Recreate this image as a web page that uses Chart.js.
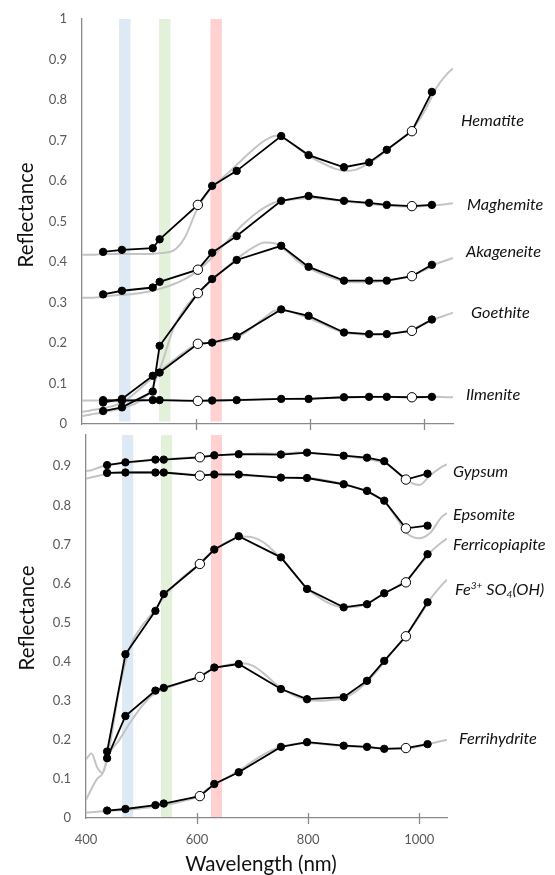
<!DOCTYPE html>
<html><head><meta charset="utf-8">
<script src="https://cdn.jsdelivr.net/npm/chart.js@4.4.1/dist/chart.umd.min.js"></script>
<style>
html,body{margin:0;padding:0;background:#fff;width:555px;height:875px;overflow:hidden}
canvas{position:absolute;left:0}
#topc{top:0}
#botc{top:424px}
</style></head><body>
<canvas id="topc" width="555" height="432"></canvas>
<canvas id="botc" width="555" height="451"></canvas>
<script>
// ---------- data ----------
const topWl = [437, 470, 524, 536, 603, 628, 671, 749, 797, 859, 903, 934, 978, 1013];
const botWl = [438, 471, 525, 540, 605, 631, 675, 751, 798, 864, 906, 937, 976, 1015];
const openIdx = [4, 12];

const hematite   = [0.425, 0.430, 0.434, 0.456, 0.541, 0.588, 0.625, 0.711, 0.664, 0.634, 0.646, 0.677, 0.723, 0.820];
const maghemite  = [0.320, 0.329, 0.337, 0.351, 0.381, 0.423, 0.464, 0.551, 0.563, 0.551, 0.546, 0.541, 0.538, 0.541];
const akageneite = [0.032, 0.041, 0.080, 0.193, 0.323, 0.358, 0.405, 0.440, 0.388, 0.354, 0.354, 0.354, 0.365, 0.393];
const goethite   = [0.053, 0.062, 0.119, 0.127, 0.198, 0.201, 0.216, 0.283, 0.267, 0.226, 0.222, 0.222, 0.230, 0.258];
const ilmenite   = [0.059, 0.058, 0.059, 0.059, 0.057, 0.058, 0.059, 0.062, 0.062, 0.066, 0.067, 0.067, 0.066, 0.067];

const gypsum         = [0.903, 0.910, 0.917, 0.917, 0.923, 0.928, 0.931, 0.930, 0.935, 0.927, 0.922, 0.913, 0.866, 0.881];
const epsomite       = [0.883, 0.884, 0.884, 0.884, 0.876, 0.879, 0.879, 0.871, 0.870, 0.854, 0.837, 0.812, 0.741, 0.748];
const ferricopiapite = [0.170, 0.419, 0.530, 0.573, 0.650, 0.687, 0.721, 0.667, 0.586, 0.539, 0.547, 0.575, 0.603, 0.675];
const fe3so4oh       = [0.153, 0.261, 0.326, 0.333, 0.361, 0.385, 0.394, 0.330, 0.304, 0.309, 0.351, 0.402, 0.465, 0.552];
const ferrihydrite   = [0.019, 0.023, 0.033, 0.037, 0.056, 0.087, 0.117, 0.182, 0.194, 0.185, 0.182, 0.177, 0.179, 0.189];

// laboratory spectra (gray curves)
const specWl = [400,410,420,430,440,460,480,500,520,540,560,580,600,620,640,660,680,700,720,740,760,780,800,820,840,860,880,900,920,940,960,980,1000,1020,1040,1050];
const hematiteSpec   = [0.418,0.418,0.418,0.419,0.42,0.42,0.42,0.42,0.42,0.422,0.428,0.46,0.525,0.572,0.60,0.625,0.652,0.678,0.700,0.712,0.70,0.68,0.66,0.645,0.632,0.625,0.628,0.642,0.66,0.683,0.705,0.73,0.772,0.828,0.865,0.878];
const maghemiteSpec  = [0.312,0.312,0.312,0.313,0.315,0.318,0.32,0.323,0.328,0.335,0.345,0.358,0.375,0.40,0.43,0.46,0.49,0.515,0.535,0.548,0.553,0.556,0.558,0.556,0.553,0.55,0.547,0.544,0.541,0.539,0.537,0.537,0.538,0.54,0.543,0.545];
const akageneiteSpec = [0.02,0.022,0.025,0.027,0.03,0.036,0.043,0.056,0.082,0.15,0.235,0.285,0.318,0.345,0.37,0.395,0.417,0.436,0.448,0.445,0.425,0.40,0.383,0.37,0.36,0.352,0.35,0.35,0.352,0.355,0.36,0.368,0.38,0.395,0.405,0.41];
const goethiteSpec   = [0.03,0.032,0.035,0.037,0.04,0.047,0.062,0.085,0.11,0.135,0.157,0.178,0.196,0.2,0.203,0.208,0.22,0.24,0.263,0.28,0.279,0.27,0.26,0.248,0.235,0.226,0.222,0.22,0.22,0.222,0.227,0.235,0.248,0.26,0.27,0.275];
const ilmeniteSpec   = [0.058,0.058,0.058,0.058,0.057,0.056,0.056,0.057,0.058,0.058,0.058,0.057,0.057,0.058,0.058,0.059,0.06,0.06,0.061,0.062,0.062,0.063,0.063,0.064,0.065,0.066,0.066,0.067,0.067,0.067,0.066,0.066,0.066,0.067,0.066,0.066];

const gypsumSpec         = [0.888,0.89,0.895,0.9,0.903,0.907,0.91,0.913,0.916,0.918,0.92,0.922,0.924,0.927,0.929,0.93,0.931,0.932,0.933,0.932,0.933,0.935,0.934,0.932,0.93,0.927,0.924,0.92,0.915,0.907,0.885,0.862,0.852,0.877,0.898,0.905];
const epsomiteSpec       = [0.868,0.872,0.875,0.878,0.882,0.884,0.885,0.885,0.885,0.884,0.882,0.88,0.878,0.878,0.877,0.877,0.876,0.875,0.874,0.873,0.872,0.871,0.87,0.867,0.862,0.855,0.848,0.838,0.825,0.805,0.765,0.726,0.716,0.73,0.77,0.78];
const ferricopiapiteSpec = [0.046,0.075,0.1,0.115,0.165,0.33,0.44,0.49,0.525,0.565,0.597,0.623,0.645,0.672,0.695,0.71,0.72,0.718,0.705,0.68,0.652,0.617,0.585,0.564,0.548,0.54,0.54,0.545,0.56,0.577,0.593,0.613,0.645,0.68,0.705,0.715];
const fe3so4ohSpec       = [0.15,0.165,0.13,0.115,0.16,0.2,0.245,0.285,0.315,0.33,0.34,0.35,0.36,0.375,0.387,0.393,0.396,0.39,0.37,0.345,0.325,0.31,0.302,0.3,0.302,0.305,0.318,0.34,0.37,0.405,0.44,0.475,0.515,0.56,0.595,0.61];
const ferrihydriteSpec   = [0.014,0.015,0.016,0.017,0.018,0.02,0.022,0.025,0.028,0.033,0.038,0.045,0.055,0.075,0.092,0.108,0.125,0.145,0.163,0.177,0.185,0.19,0.192,0.19,0.187,0.184,0.183,0.182,0.18,0.178,0.177,0.178,0.183,0.19,0.197,0.2];

const topNames = ['Hematite', 'Maghemite', 'Akageneite', 'Goethite', 'Ilmenite'];
const botNames = ['Gypsum', 'Epsomite', 'Ferricopiapite', 'Fe^{3+} SO_{4}(OH)', 'Ferrihydrite'];
const topSeries = [hematite, maghemite, akageneite, goethite, ilmenite];
const botSeries = [gypsum, epsomite, ferricopiapite, fe3so4oh, ferrihydrite];
const topSpecs = [hematiteSpec, maghemiteSpec, akageneiteSpec, goethiteSpec, ilmeniteSpec];
const botSpecs = [gypsumSpec, epsomiteSpec, ferricopiapiteSpec, fe3so4ohSpec, ferrihydriteSpec];

const topYTicks = [0, 0.1, 0.2, 0.3, 0.4, 0.5, 0.6, 0.7, 0.8, 0.9, 1];
const botYTicks = [0, 0.1, 0.2, 0.3, 0.4, 0.5, 0.6, 0.7, 0.8, 0.9];
const xTicks = [400, 600, 800, 1000];
const bands = [[465, 485], [535, 555], [625, 645]];   // blue, green, red filter bands (nm)

// ---------- styles / placement ----------
const bandColors = ['rgb(222,233,246)', 'rgb(227,241,219)', 'rgb(255,209,209)'];
const axisColor = '#8a8a8a';
const FONT = 'Lato, Carlito, "Liberation Sans", sans-serif';
Chart.defaults.font.family = FONT;

function drawRich(ctx, text, x, y, size) {
  const parts = text.split(/(\^\{[^}]*\}|_\{[^}]*\})/).filter(s => s.length);
  let cx = x;
  for (const p of parts) {
    let t = p, s = size, dy = 0;
    if (p.startsWith('^{')) { t = p.slice(2, -1); s = size * 0.62; dy = -size * 0.36; }
    else if (p.startsWith('_{')) { t = p.slice(2, -1); s = size * 0.62; dy = size * 0.16; }
    ctx.font = `italic ${s}px ${FONT}`;
    ctx.fillText(t, cx, y + dy);
    cx += ctx.measureText(t).width;
  }
}

function makePanel(canvasId, o) {
  const datasets = [];
  o.series.forEach((vals, k) => {
    datasets.push({
      label: o.names[k],
      data: o.wl.map((w, i) => ({x: w, y: vals[i]})),
      showLine: true, order: 1,
      borderColor: '#000', borderWidth: 1.8,
      pointRadius: o.wl.map((_, i) => openIdx.includes(i) ? 4.7 : 3.7),
      pointBackgroundColor: o.wl.map((_, i) => openIdx.includes(i) ? '#fff' : '#000'),
      pointBorderColor: '#000', pointBorderWidth: 1
    });
  });
  o.specs.forEach((vals, k) => {
    datasets.push({
      label: o.names[k] + ' lab',
      data: specWl.map((w, i) => ({x: w, y: vals[i]})),
      showLine: true, order: 2,
      borderColor: '#c4c4c4', borderWidth: 2,
      pointRadius: 0, cubicInterpolationMode: 'monotone'
    });
  });

  const decor = {
    id: 'decor',
    beforeDraw(chart) {
      const {ctx, scales: {x, y}} = chart;
      ctx.save();
      bands.forEach((b, i) => {
        const x0 = x.getPixelForValue(b[0]), x1 = x.getPixelForValue(b[1]);
        const y0 = y.getPixelForValue(o.bandTop), y1 = y.getPixelForValue(o.bandBottom);
        ctx.fillStyle = bandColors[i];
        ctx.fillRect(x0, y0, x1 - x0, y1 - y0);
      });
      ctx.restore();
    },
    afterDraw(chart) {
      const {ctx, chartArea, scales: {x, y}} = chart;
      ctx.save();
      ctx.strokeStyle = axisColor; ctx.lineWidth = 1.3;
      xTicks.slice(1).forEach(v => {
        const px = Math.round(x.getPixelForValue(v)) + 0.5;
        ctx.beginPath();
        ctx.moveTo(px, chartArea.bottom - 5);
        ctx.lineTo(px, chartArea.bottom + 6);
        ctx.stroke();
      });
      ctx.fillStyle = '#111';
      ctx.textBaseline = 'alphabetic'; ctx.textAlign = 'left';
      o.names.forEach((n, k) => {
        const a = o.labelAnchor[k];
        drawRich(ctx, n, chartArea.right + a[0], y.getPixelForValue(a[1]), 16.3);
      });
      ctx.font = `20.5px ${FONT}`;
      ctx.fillStyle = '#111';
      ctx.textAlign = 'center'; ctx.textBaseline = 'middle';
      ctx.translate(o.yTitle[0], o.yTitle[1]);
      ctx.rotate(-Math.PI / 2);
      ctx.fillText('Reflectance', 0, 0);
      ctx.restore();
      if (o.xTitle) {
        ctx.save();
        ctx.font = `20.5px ${FONT}`;
        ctx.fillStyle = '#111';
        ctx.textAlign = 'center'; ctx.textBaseline = 'alphabetic';
        ctx.fillText('Wavelength (nm)', o.xTitle[0], o.xTitle[1]);
        ctx.restore();
      }
    }
  };

  return new Chart(document.getElementById(canvasId), {
    type: 'scatter',
    data: {datasets},
    options: {
      responsive: false, animation: false, devicePixelRatio: 1, events: [],
      layout: {padding: o.padding, autoPadding: false},
      plugins: {legend: {display: false}, tooltip: {enabled: false}},
      scales: {
        x: {
          type: 'linear', min: 400, max: 1050,
          afterBuildTicks: s => { s.ticks = xTicks.map(v => ({value: v})); },
          ticks: {display: o.showXLabels, color: '#595959', font: {size: 13}, padding: 0,
                  callback: v => String(v)},
          grid: {display: false, drawTicks: true, tickLength: 14},
          border: {display: true, color: axisColor, width: 1.3},
          afterFit: s => { s.height = o.xHeight; }
        },
        y: {
          type: 'linear', min: 0, max: o.yMax,
          afterBuildTicks: s => { s.ticks = o.yTicks.map(v => ({value: v})); },
          ticks: {color: '#595959', font: {size: 13}, padding: 0,
                  callback: v => (v === 0 ? '0' : v === 1 ? '1' : v.toFixed(1))},
          grid: {display: false, drawTicks: true, tickLength: 15},
          border: {display: true, color: axisColor, width: 1.3},
          afterFit: s => { s.width = o.yWidth; }
        }
      }
    },
    plugins: [decor]
  });
}

makePanel('topc', {
  wl: topWl, series: topSeries, specs: topSpecs, names: topNames,
  labelAnchor: [[8, 0.736], [14, 0.528], [13, 0.412], [18, 0.261], [13, 0.059]],
  yMax: 1, yTicks: topYTicks, yWidth: 82, xHeight: 8, showXLabels: false,
  padding: {top: 19, right: 102, left: 0, bottom: 0},
  bandTop: 1, bandBottom: 0.006, yTitle: [26, 215]
});

makePanel('botc', {
  wl: botWl, series: botSeries, specs: botSpecs, names: botNames,
  labelAnchor: [[6, 0.872], [6, 0.762], [6, 0.685], [8, 0.570], [12, 0.189]],
  yMax: 0.98, yTicks: botYTicks, yWidth: 86, xHeight: 57, showXLabels: true,
  padding: {top: 11, right: 108, left: 0, bottom: 0},
  bandTop: 0.98, bandBottom: 0, yTitle: [27, 194], xTitle: [261, 447]
});
</script>
</body></html>
